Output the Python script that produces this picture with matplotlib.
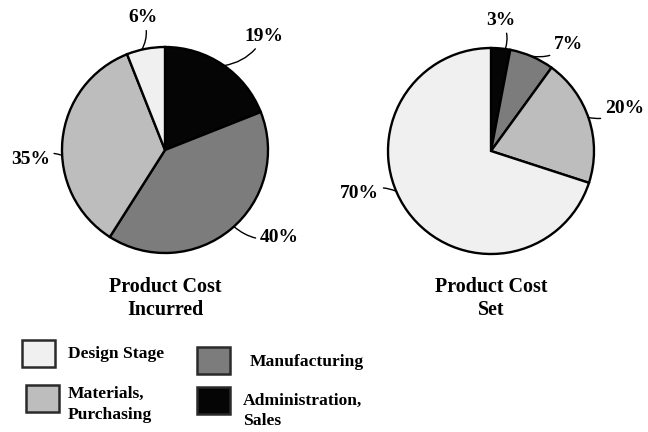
import numpy as np
import matplotlib.pyplot as plt
from matplotlib.patches import Rectangle

plt.rcParams['font.family'] = ['Liberation Serif', 'DejaVu Serif']
plt.rcParams['font.weight'] = 'bold'

# data (legend order)
categories = ['Design Stage', 'Materials,\nPurchasing', 'Manufacturing', 'Administration,\nSales']
colors = ['#f0f0f0', '#bdbdbd', '#7c7c7c', '#050505']
incurred = [6, 35, 40, 19]
cost_set = [70, 20, 7, 3]
titles = ['Product Cost\nIncurred', 'Product Cost\nSet']

# layout: (leader angle, text angle, text radius) per wedge, legend order
label_layout = [
    [(103, 99.5, 1.30), (183, 184, 1.31), (-48, -37.6, 1.40), (55, 49, 1.46)],
    [(203, 198, 1.34), (19, 17.8, 1.36), (67, 54, 1.28), (82, 85.6, 1.27)],
]
centers = [(165, 150), (491, 151)]
R = 103.0
W, H = 648, 432

fig = plt.figure(figsize=(6.48, 4.32), dpi=100)


def px_axes(cx, cy, half):
    ax = fig.add_axes([(cx - half) / W, (H - cy - half) / H, 2 * half / W, 2 * half / H])
    ax.axis('off')
    return ax


for k, vals in enumerate([incurred, cost_set]):
    cx, cy = centers[k]
    half = 150
    ax = px_axes(cx, cy, half)
    order = [3, 2, 1, 0]  # admin, manufacturing, materials, design - clockwise from top
    wedges, _ = ax.pie([vals[i] for i in order], colors=[colors[i] for i in order],
                       startangle=90, counterclock=False, radius=1.0,
                       wedgeprops=dict(edgecolor='black', linewidth=1.7))
    ax.set_xlim(-half / R, half / R)
    ax.set_ylim(-half / R, half / R)
    ax.set_aspect('equal')
    for i, v in enumerate(vals):
        la, ta, tr = label_layout[k][i]
        p0 = (np.cos(np.radians(la)), np.sin(np.radians(la)))
        p1 = (tr * np.cos(np.radians(ta)), tr * np.sin(np.radians(ta)))
        ax.annotate('{}%'.format(v), xy=p0, xytext=p1, ha='center', va='center',
                    fontsize=14, fontweight='bold',
                    arrowprops=dict(arrowstyle='-', lw=1.0, color='black',
                                    shrinkA=1, shrinkB=0,
                                    connectionstyle='arc3,rad=-0.25'))
    fig.text(cx / W, 1 - 298.5 / H, titles[k], ha='center', va='center',
             fontsize=14.4, fontweight='bold', linespacing=1.15)

# legend
boxes = [(22, 340), (26, 385), (197, 347), (197, 387)]
texts = [(68, 354), (68, 404.5), (250, 362), (243, 411)]
for i, name in enumerate(categories):
    bx, by = boxes[i]
    fig.patches.append(Rectangle((bx / W, 1 - (by + 27) / H), 33 / W, 27 / H,
                                 transform=fig.transFigure, facecolor=colors[i],
                                 edgecolor='#2a2a2a', linewidth=1.8))
    tx, ty = texts[i]
    fig.text(tx / W, 1 - ty / H, name, ha='left', va='center', fontsize=12.6,
             fontweight='bold', linespacing=1.4)

fig.savefig('out.png', dpi=100)
